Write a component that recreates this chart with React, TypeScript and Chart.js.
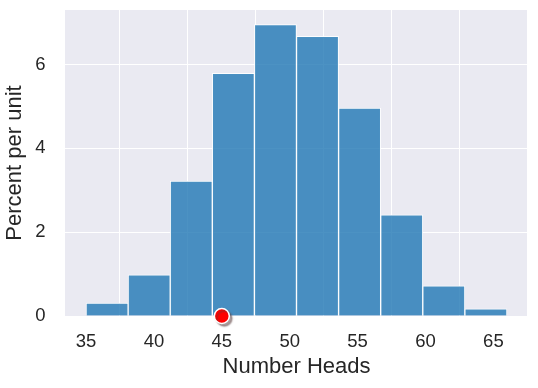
import React, { useEffect, useRef } from "react";
import { Chart, registerables } from "chart.js";

Chart.register(...registerables);

const binEdges = [35, 38.1, 41.2, 44.3, 47.4, 50.5, 53.6, 56.7, 59.8, 62.9, 66];
const percentPerUnit = [0.31, 0.98, 3.22, 5.79, 6.95, 6.67, 4.96, 2.41, 0.72, 0.17];
const xTicks = [35, 40, 45, 50, 55, 60, 65];
const yTicks = [0, 2, 4, 6];
const xRange = [33.45, 67.55];
const observed = [{ x: 45, y: 0 }];
const xLabel = "Number Heads";
const yLabel = "Percent per unit";

const FONT = "Arial, 'Liberation Sans', Helvetica, sans-serif";
const TEXT = "#262626";

const bgPlugin = {
  id: "plotBg",
  beforeDraw(chart: any) {
    const { ctx, chartArea } = chart;
    ctx.save();
    ctx.fillStyle = "#EAEAF2";
    ctx.fillRect(chartArea.left, chartArea.top, chartArea.right - chartArea.left, chartArea.bottom - chartArea.top);
    ctx.restore();
  },
};

const shadowPlugin = {
  id: "dotShadow",
  beforeDatasetDraw(chart: any, args: any) {
    if (args.index === 1) {
      const ctx = chart.ctx;
      ctx.save();
      ctx.shadowColor = "rgba(90,60,60,0.5)";
      ctx.shadowOffsetX = 2.5;
      ctx.shadowOffsetY = 2.5;
      ctx.shadowBlur = 1.5;
    }
  },
  afterDatasetDraw(chart: any, args: any) {
    if (args.index === 1) {
      chart.ctx.restore();
    }
  },
};

const zeroPad = (s: any) => {
  s.paddingTop = 0;
  s.paddingBottom = 0;
  s.paddingLeft = 0;
  s.paddingRight = 0;
};

export default function App() {
  const ref = useRef<HTMLCanvasElement | null>(null);

  useEffect(() => {
    document.body.style.margin = "0";
    const canvas = ref.current;
    if (!canvas) return;
    const barData = percentPerUnit.map((v, i) => ({
      x: (binEdges[i] + binEdges[i + 1]) / 2,
      y: v,
    }));
    const yMax = Math.max(...percentPerUnit) * 1.05;

    const chart = new Chart(canvas, {
      type: "bar",
      data: {
        datasets: [
          {
            type: "bar",
            data: barData as any,
            backgroundColor: "rgba(31,119,180,0.8)",
            borderColor: "rgba(255,255,255,0.9)",
            borderWidth: 1,
            barPercentage: 1,
            categoryPercentage: 1,
            grouped: false,
            order: 2,
          } as any,
          {
            type: "scatter",
            data: observed as any,
            backgroundColor: "#ff0000",
            borderColor: "#ffffff",
            borderWidth: 1.5,
            pointRadius: 7.5,
            clip: false,
            order: 1,
          } as any,
        ],
      },
      options: {
        animation: false,
        responsive: false,
        devicePixelRatio: 1,
        layout: { padding: { top: 10, right: 10, left: 0, bottom: 0 } },
        plugins: {
          legend: { display: false },
          tooltip: { enabled: false },
        },
        scales: {
          x: {
            type: "linear",
            min: xRange[0],
            max: xRange[1],
            offset: false,
            border: { display: false },
            grid: { color: "#ffffff", lineWidth: 1, drawTicks: false },
            afterBuildTicks: (s: any) => {
              s.ticks = xTicks.map((v) => ({ value: v }));
            },
            afterFit: (s: any) => {
              s.height = 72;
              zeroPad(s);
            },
            ticks: {
              color: TEXT,
              font: { family: FONT, size: 18.5 },
              padding: 15,
              maxRotation: 0,
            },
            title: {
              display: true,
              text: xLabel,
              color: TEXT,
              font: { family: FONT, size: 22 },
              padding: { top: 0, bottom: 8 },
            },
          },
          y: {
            type: "linear",
            min: 0,
            max: yMax,
            border: { display: false },
            grid: { color: "#ffffff", lineWidth: 1, drawTicks: false },
            afterBuildTicks: (s: any) => {
              s.ticks = yTicks.map((v) => ({ value: v }));
            },
            afterFit: (s: any) => {
              s.width = 65;
              zeroPad(s);
            },
            ticks: {
              color: TEXT,
              font: { family: FONT, size: 18.5 },
              padding: 19.5,
            },
            title: {
              display: true,
              text: yLabel,
              color: TEXT,
              font: { family: FONT, size: 22 },
              padding: { top: 2, bottom: 0 },
            },
          },
        },
      },
      plugins: [bgPlugin, shadowPlugin],
    } as any);
    return () => chart.destroy();
  }, []);

  return (
    <div style={{ width: 538, height: 388, background: "#ffffff" }}>
      <canvas ref={ref} width={538} height={388} style={{ display: "block" }} />
    </div>
  );
}
